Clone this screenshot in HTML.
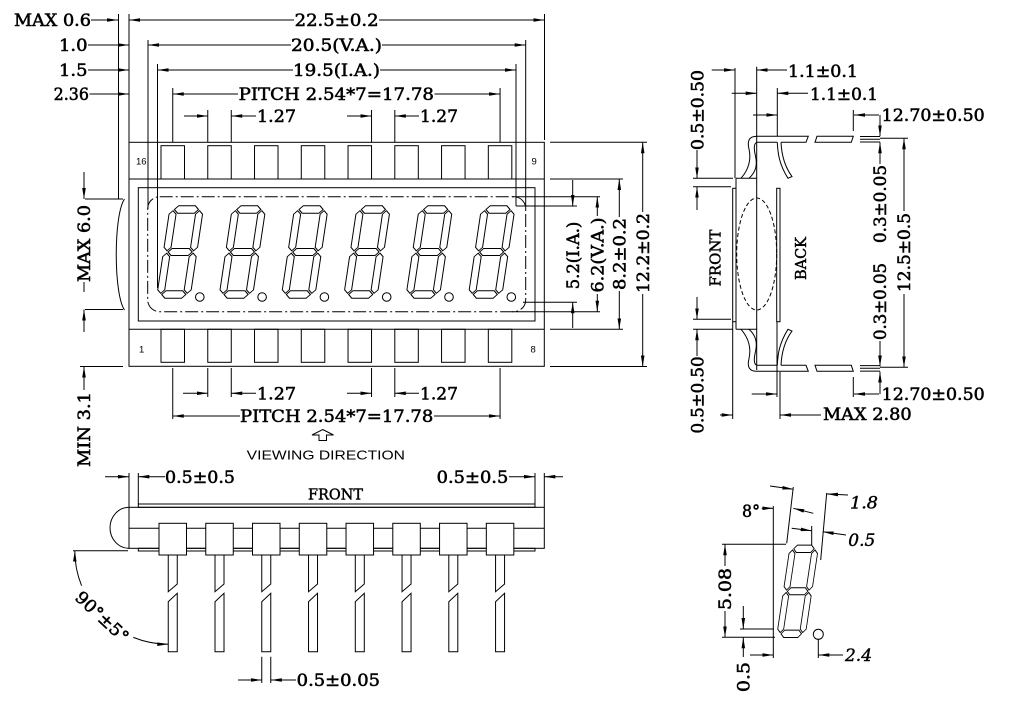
<!DOCTYPE html>
<html><head><meta charset="utf-8">
<style>
html,body{margin:0;padding:0;background:#fff;}
svg{display:block;}
.t{font-family:"DejaVu Serif","Liberation Serif",serif;font-size:17px;fill:#000;stroke:#000;stroke-width:0.55;}
.f{font-family:"DejaVu Serif","Liberation Serif",serif;font-size:15px;fill:#000;stroke:#000;stroke-width:0.45;}
.i{font-family:"DejaVu Serif","Liberation Serif",serif;font-size:17px;font-style:italic;fill:#000;stroke:#000;stroke-width:0.4;}
.s{font-family:"Liberation Sans","DejaVu Sans",sans-serif;fill:#000;}
</style></head><body>
<svg width="1015" height="707" viewBox="0 0 1015 707" xmlns="http://www.w3.org/2000/svg" xmlns:xlink="http://www.w3.org/1999/xlink">
<defs>
<marker id="a" viewBox="0 0 11 3.6" refX="11" refY="1.8" markerWidth="11" markerHeight="3.6" markerUnits="userSpaceOnUse" orient="auto"><path d="M0,0 L11,1.8 L0,3.6 Z" fill="#000" stroke="none"/></marker>
<g id="dg" fill="#fff" stroke="#000" stroke-width="1">
<polygon points="4.7,-88.5 8.4,-92.2 25.1,-92.2 28.8,-88.5 25.1,-84.8 8.4,-84.8"/>
<polygon points="4.7,-46 8.2,-49.5 25.3,-49.5 28.8,-46 25.3,-42.5 8.2,-42.5"/>
<polygon points="4.7,-3.5 8.4,-7.2 25.1,-7.2 28.8,-3.5 25.1,0.2 8.4,0.2"/>
<polygon points="3.5,-87.3 7,-83.8 7,-50.7 3.5,-47.2 0,-50.7 0,-83.8"/>
<polygon points="30,-87.3 33.5,-83.8 33.5,-50.7 30,-47.2 26.5,-50.7 26.5,-83.8"/>
<polygon points="3.5,-44.8 7,-41.3 7,-8.2 3.5,-4.7 0,-8.2 0,-41.3"/>
<polygon points="30,-44.8 33.5,-41.3 33.5,-8.2 30,-4.7 26.5,-8.2 26.5,-41.3"/>
</g>
<g id="bp" fill="#fff" stroke="#000" stroke-width="1">
<rect x="-13.75" y="523.3" width="27.5" height="31.7"/>
<path d="M-4.5,555 V591.7 L4.5,584 V555" fill="none"/>
<path d="M-4.5,601.7 L4.5,593.3 V651.7 H-4.5 Z"/>
</g>
<g id="lead" fill="none" stroke="#000" stroke-width="1">
<path d="M757,136.3 H808.3 L806,142.3 H781 M777.3,142.3 H757"/>
<path d="M757,136.3 C749,136.3 747,141 749,149 C751,158 750,168 741,178.3"/>
<path d="M757,142.3 C754,143 753.5,148 755.5,156 C757.5,165 756,172 749,178.3"/>
<path d="M777.3,142.3 C777.8,153 779,164 788,178.3 L792,176.5 C783.5,165 781.5,153 781,142.3"/>
<polygon points="817,136.3 853.3,136.3 851.3,142.3 815,142.3"/>
<path d="M860,136.5 H880 M860,139.3 H880 M860,142 H880"/>
</g>
</defs>

<g fill="none" stroke="#000" stroke-width="1">
<path d="M91,20 H118" marker-end="url(#a)"/>
<path d="M294,20 H129" marker-end="url(#a)"/>
<path d="M379,20 H544.5" marker-end="url(#a)"/>
<path d="M88,45 H129" marker-end="url(#a)"/>
<path d="M291,45 H148" marker-end="url(#a)"/>
<path d="M382,45 H525.7" marker-end="url(#a)"/>
<path d="M88,70 H129" marker-end="url(#a)"/>
<path d="M293,70 H157.5" marker-end="url(#a)"/>
<path d="M380,70 H516" marker-end="url(#a)"/>
<path d="M89.5,94 H129" marker-end="url(#a)"/>
<path d="M238,94 H172.75" marker-end="url(#a)"/>
<path d="M434.5,94 H500.07" marker-end="url(#a)"/>
<path d="M184,116 H207.76" marker-end="url(#a)"/>
<path d="M256,116 H231.26" marker-end="url(#a)"/>
<path d="M347,116 H371.54" marker-end="url(#a)"/>
<path d="M419,116 H394.8" marker-end="url(#a)"/>
<path d="M118.5,14 V199 M129,14 V142 M544.5,14 V140 M148,40 V209 M525.7,40 V209 M157.5,64 V288 M516,64 V206 M172.75,88 V142 M500.07,88 V142 M207.76,110 V142 M231.26,110 V142 M371.54,110 V142 M394.8,110 V142"/>

<rect x="129" y="142.3" width="415.3" height="224"/>
<path d="M129,179 H544.3 M129,329.3 H544.3"/>
<rect x="138.3" y="187.7" width="396.7" height="133.3"/>
<rect x="147.7" y="196.7" width="378" height="115" rx="12" stroke-dasharray="13 3 2 3"/>
<path d="M124.5,199 C113.5,215 113.5,294 124.5,310"/>
<rect x="161" y="145.7" width="23.5" height="33.3"/>
<rect x="207.76" y="145.7" width="23.5" height="33.3"/>
<rect x="254.52" y="145.7" width="23.5" height="33.3"/>
<rect x="301.28" y="145.7" width="23.5" height="33.3"/>
<rect x="348.04" y="145.7" width="23.5" height="33.3"/>
<rect x="394.8" y="145.7" width="23.5" height="33.3"/>
<rect x="441.56" y="145.7" width="23.5" height="33.3"/>
<rect x="488.32" y="145.7" width="23.5" height="33.3"/>
<rect x="161" y="329.3" width="23.5" height="33"/>
<rect x="207.76" y="329.3" width="23.5" height="33"/>
<rect x="254.52" y="329.3" width="23.5" height="33"/>
<rect x="301.28" y="329.3" width="23.5" height="33"/>
<rect x="348.04" y="329.3" width="23.5" height="33"/>
<rect x="394.8" y="329.3" width="23.5" height="33"/>
<rect x="441.56" y="329.3" width="23.5" height="33"/>
<rect x="488.32" y="329.3" width="23.5" height="33"/>
</g>
<use xlink:href="#dg" href="#dg" transform="translate(156.5,298) skewX(-8.5)"/>
<use xlink:href="#dg" href="#dg" transform="translate(218.8,298) skewX(-8.5)"/>
<use xlink:href="#dg" href="#dg" transform="translate(281.1,298) skewX(-8.5)"/>
<use xlink:href="#dg" href="#dg" transform="translate(343.4,298) skewX(-8.5)"/>
<use xlink:href="#dg" href="#dg" transform="translate(405.7,298) skewX(-8.5)"/>
<use xlink:href="#dg" href="#dg" transform="translate(468,298) skewX(-8.5)"/>
<g fill="#fff" stroke="#000" stroke-width="1">
<circle cx="199.8" cy="297" r="4.3"/><circle cx="262.1" cy="297" r="4.3"/><circle cx="324.4" cy="297" r="4.3"/><circle cx="386.7" cy="297" r="4.3"/><circle cx="449" cy="297" r="4.3"/><circle cx="511.3" cy="297" r="4.3"/>
</g>
<text class="s" font-size="9.5" x="136" y="164.3">16</text>
<text class="s" font-size="9.5" x="531.5" y="164.3">9</text>
<text class="s" font-size="9.5" x="139" y="352.3">1</text>
<text class="s" font-size="9.5" x="530.5" y="352.5">8</text>

<g fill="none" stroke="#000" stroke-width="1">
<path d="M550,142.3 H647 M550,366.5 H647 M550,179 H623 M550,329.3 H623 M512,196.7 H600 M512,311.7 H600 M516,206 H577 M523,302.3 H577"/>
<path d="M572.7,180 V206" marker-end="url(#a)"/>
<path d="M572.7,328 V302.3" marker-end="url(#a)"/>
<path d="M597.3,216 V196.7" marker-end="url(#a)"/>
<path d="M597.3,294 V311.7" marker-end="url(#a)"/>
<path d="M619.3,217 V179" marker-end="url(#a)"/>
<path d="M619.3,291 V329.3" marker-end="url(#a)"/>
<path d="M642.7,212 V142.3" marker-end="url(#a)"/>
<path d="M642.7,294 V366.5" marker-end="url(#a)"/>
<path d="M85,199 H123 M85,309.5 H123 M80,366.5 H123 M84,282 V292"/>
<path d="M84,172 V199" marker-end="url(#a)"/>
<path d="M84,332 V309.5" marker-end="url(#a)"/>
<path d="M84,390 V366.5" marker-end="url(#a)"/>
<path d="M172.75,368 V419 M500.07,368 V419 M207.76,368 V397 M231.26,368 V397 M371.54,368 V397 M394.8,368 V397"/>
<path d="M183,393.3 H207.76" marker-end="url(#a)"/>
<path d="M256,393.3 H231.26" marker-end="url(#a)"/>
<path d="M347,393.3 H371.54" marker-end="url(#a)"/>
<path d="M419,393.3 H394.8" marker-end="url(#a)"/>
<path d="M240,416 H172.75" marker-end="url(#a)"/>
<path d="M434,416 H500.07" marker-end="url(#a)"/>
<path d="M322.7,429.5 L333.5,435 L326.5,435 L326.5,440.5 L319,440.5 L319,435 L312,435 Z"/>
<path d="M105,476.7 H129" marker-end="url(#a)"/>
<path d="M165,476.7 H138.3" marker-end="url(#a)"/>
<path d="M509,476.7 H535" marker-end="url(#a)"/>
<path d="M563,476.7 H544.3" marker-end="url(#a)"/>
<path d="M129,473 V507.3 M138.3,473 V504 M535,473 V504 M544.3,473 V507.3"/>

<rect x="138.3" y="504" width="396.7" height="3.3"/>
<rect x="129" y="507.3" width="415.3" height="41"/>
<path d="M129,528.3 H544.3"/>
<rect x="138.3" y="548.3" width="396.7" height="2.7"/>
<path d="M129,507.3 A19,20.5 0 0 0 129,548.3"/>
<path d="M73,550.7 H128"/>
<path d="M81.6,585.7 A93.5,93.5 0 0 1 74.8,550.7" marker-end="url(#a)"/>
<path d="M133.3,637.4 A93.5,93.5 0 0 0 168.25,644.2" marker-end="url(#a)"/>
<path d="M261.77,656.7 V683 M270.77,656.7 V683"/>
<path d="M238,680 H261.77" marker-end="url(#a)"/>
<path d="M296,680 H270.77" marker-end="url(#a)"/>
</g>
<use xlink:href="#bp" href="#bp" x="172.75"/>
<use xlink:href="#bp" href="#bp" x="219.51"/>
<use xlink:href="#bp" href="#bp" x="266.27"/>
<use xlink:href="#bp" href="#bp" x="313.03"/>
<use xlink:href="#bp" href="#bp" x="359.79"/>
<use xlink:href="#bp" href="#bp" x="406.55"/>
<use xlink:href="#bp" href="#bp" x="453.31"/>
<use xlink:href="#bp" href="#bp" x="500.07"/>

<g fill="none" stroke="#000" stroke-width="1">
<path d="M736,178.3 V329.3 M736,178.3 H756.7 M736,329.3 H756.7"/>
<rect x="732.7" y="188.3" width="3.3" height="133.4"/>
<rect x="776.7" y="188.3" width="3.3" height="133.4"/>
<ellipse cx="756.7" cy="254" rx="20" ry="56" stroke-dasharray="4 2.5"/>
<path d="M735,68 V178.3 M756.7,66.7 V370 M777.3,88 V136.3"/>
<path d="M693,178.3 H733 M693,186.7 H731 M693,319.3 H731 M693,329.3 H733"/>
<path d="M697,150 V178.3" marker-end="url(#a)"/>
<path d="M697,210 V186.7" marker-end="url(#a)"/>
<path d="M697,297 V319.3" marker-end="url(#a)"/>
<path d="M697,356 V329.3" marker-end="url(#a)"/>
<path d="M711.7,70 H735" marker-end="url(#a)"/>
<path d="M787,70 H756.7" marker-end="url(#a)"/>
<path d="M731.7,93.3 H756.7" marker-end="url(#a)"/>
<path d="M808,93.3 H777.3" marker-end="url(#a)"/>
<path d="M753,115 H777.3" marker-end="url(#a)"/>
<path d="M853.3,110 V131 M853.3,377 V397"/>
<path d="M879,115 H854" marker-end="url(#a)"/>
<path d="M880,115 V136.3" marker-end="url(#a)"/>
<path d="M880,164 V142.3" marker-end="url(#a)"/>
<path d="M880,341 V366.5" marker-end="url(#a)"/>
<path d="M880,394 V371.6" marker-end="url(#a)"/>
<path d="M879,394 H854" marker-end="url(#a)"/>
<path d="M880,138.3 H908 M880,367.3 H908"/>
<path d="M904,211 V138.3" marker-end="url(#a)"/>
<path d="M904,294 V367.3" marker-end="url(#a)"/>
<path d="M777,322 V397 M732.7,322 V419 M780,372 V419"/>
<path d="M751.7,394 H777" marker-end="url(#a)"/>
<path d="M720,415 H732.7" marker-end="url(#a)"/>
<path d="M821,415 H780" marker-end="url(#a)"/>
</g>
<use xlink:href="#lead" href="#lead"/>
<use xlink:href="#lead" href="#lead" transform="matrix(1 0 0 -1 0 507.6)"/>

<use xlink:href="#dg" href="#dg" transform="translate(776.5,637.3) skewX(-8.5) scale(0.85,1)"/>
<g fill="none" stroke="#000" stroke-width="1">
<circle cx="818.3" cy="634.3" r="5" fill="#fff"/>
<path d="M818.3,639.3 V658"/>
<path d="M722,544.3 H786 M722,637.3 H775 M740,629 H774 M773.3,506 V658"/>
<path d="M725,566 V544.3" marker-end="url(#a)"/>
<path d="M725,611 V637.3" marker-end="url(#a)"/>
<path d="M743.3,606 V629" marker-end="url(#a)"/>
<path d="M743.3,657 V637.3" marker-end="url(#a)"/>
<path d="M761.7,508.3 H773.3" marker-end="url(#a)"/>
<path d="M793.3,487 L786.7,543.3 M826.7,493 L820.7,560 M811.7,526 V545"/>
<path d="M770,486 L793.3,489.3" marker-end="url(#a)"/>
<path d="M813.3,513.3 L793.3,508.3" marker-end="url(#a)"/>
<path d="M791.7,528.3 L811.7,530.7" marker-end="url(#a)"/>
<path d="M848,495 L827,494" marker-end="url(#a)"/>
<path d="M846,535 L822.7,531.7" marker-end="url(#a)"/>
<path d="M750,655 H773.3" marker-end="url(#a)"/>
<path d="M843,655 H818.3" marker-end="url(#a)"/>
</g>

<text class="t" x="14" y="26.2" textLength="77" lengthAdjust="spacingAndGlyphs">MAX 0.6</text>
<text class="t" x="294.6" y="26.2" textLength="84" lengthAdjust="spacingAndGlyphs">22.5±0.2</text>
<text class="t" x="59" y="51.2" textLength="28.5" lengthAdjust="spacingAndGlyphs">1.0</text>
<text class="t" x="291" y="51.2" textLength="91" lengthAdjust="spacingAndGlyphs">20.5(V.A.)</text>
<text class="t" x="59" y="76.2" textLength="28.5" lengthAdjust="spacingAndGlyphs">1.5</text>
<text class="t" x="293" y="76.2" textLength="87" lengthAdjust="spacingAndGlyphs">19.5(I.A.)</text>
<text class="t" x="53.6" y="100.2" textLength="35.4" lengthAdjust="spacingAndGlyphs">2.36</text>
<text class="t" x="238.6" y="100.2" textLength="195.4" lengthAdjust="spacingAndGlyphs">PITCH  2.54*7=17.78</text>
<text class="t" x="257" y="122.2" textLength="39" lengthAdjust="spacingAndGlyphs">1.27</text>
<text class="t" x="420" y="122.2" textLength="38" lengthAdjust="spacingAndGlyphs">1.27</text>

<text class="t" transform="translate(578.9,255.5) rotate(-90)" x="-33.8" y="0" textLength="67.6" lengthAdjust="spacingAndGlyphs">5.2(I.A.)</text>
<text class="t" transform="translate(603.5,255) rotate(-90)" x="-37.5" y="0" textLength="75" lengthAdjust="spacingAndGlyphs">6.2(V.A.)</text>
<text class="t" transform="translate(625.5,254) rotate(-90)" x="-36" y="0" textLength="72" lengthAdjust="spacingAndGlyphs">8.2±0.2</text>
<text class="t" transform="translate(648.9,253) rotate(-90)" x="-40" y="0" textLength="80" lengthAdjust="spacingAndGlyphs">12.2±0.2</text>
<text class="t" transform="translate(90.2,243.5) rotate(-90)" x="-38.5" y="0" textLength="77" lengthAdjust="spacingAndGlyphs">MAX 6.0</text>
<text class="t" transform="translate(90.2,429.5) rotate(-90)" x="-37.5" y="0" textLength="75" lengthAdjust="spacingAndGlyphs">MIN 3.1</text>

<text class="t" x="257" y="399.5" textLength="39" lengthAdjust="spacingAndGlyphs">1.27</text>
<text class="t" x="420" y="399.5" textLength="38" lengthAdjust="spacingAndGlyphs">1.27</text>
<text class="t" x="240" y="422.2" textLength="193.3" lengthAdjust="spacingAndGlyphs">PITCH  2.54*7=17.78</text>
<text class="s" font-size="13" x="246.7" y="459.3" textLength="158.3" lengthAdjust="spacingAndGlyphs">VIEWING DIRECTION</text>
<text class="t" x="165" y="482.9" textLength="70" lengthAdjust="spacingAndGlyphs">0.5±0.5</text>
<text class="t" x="436.7" y="482.9" textLength="71.6" lengthAdjust="spacingAndGlyphs">0.5±0.5</text>
<text class="f" x="308" y="499.3" textLength="55" lengthAdjust="spacingAndGlyphs">FRONT</text>
<text class="t" transform="translate(102.2,616.8) rotate(43)" x="-33" y="6" textLength="66" lengthAdjust="spacingAndGlyphs">90°±5°</text>
<text class="t" x="296.7" y="686.2" textLength="83.3" lengthAdjust="spacingAndGlyphs">0.5±0.05</text>

<text class="t" transform="translate(703.7,110) rotate(-90)" x="-40" y="0" textLength="80" lengthAdjust="spacingAndGlyphs">0.5±0.50</text>
<text class="t" transform="translate(703.7,395) rotate(-90)" x="-38.5" y="0" textLength="77" lengthAdjust="spacingAndGlyphs">0.5±0.50</text>
<text class="t" x="788" y="77.2" textLength="70" lengthAdjust="spacingAndGlyphs">1.1±0.1</text>
<text class="t" x="810" y="99.8" textLength="68" lengthAdjust="spacingAndGlyphs">1.1±0.1</text>
<text class="t" x="881.7" y="121.2" textLength="103" lengthAdjust="spacingAndGlyphs">12.70±0.50</text>
<text class="t" x="881.7" y="400.2" textLength="103" lengthAdjust="spacingAndGlyphs">12.70±0.50</text>
<text class="t" x="823" y="420.2" textLength="88.7" lengthAdjust="spacingAndGlyphs">MAX 2.80</text>
<text class="t" transform="translate(886.2,204) rotate(-90)" x="-39" y="0" textLength="78" lengthAdjust="spacingAndGlyphs">0.3±0.05</text>
<text class="t" transform="translate(886.2,301.5) rotate(-90)" x="-38.5" y="0" textLength="77" lengthAdjust="spacingAndGlyphs">0.3±0.05</text>
<text class="t" transform="translate(910.2,252.5) rotate(-90)" x="-39.5" y="0" textLength="79" lengthAdjust="spacingAndGlyphs">12.5±0.5</text>
<text class="f" transform="translate(720.5,258) rotate(-90)" x="-28.5" y="0" textLength="57" lengthAdjust="spacingAndGlyphs">FRONT</text>
<text class="f" transform="translate(806.2,258.5) rotate(-90)" x="-21.5" y="0" textLength="43" lengthAdjust="spacingAndGlyphs">BACK</text>

<text class="t" x="742" y="517" textLength="18" lengthAdjust="spacingAndGlyphs">8°</text>
<text class="i" x="850" y="508.5" textLength="28" lengthAdjust="spacingAndGlyphs">1.8</text>
<text class="i" x="848.3" y="546" textLength="27" lengthAdjust="spacingAndGlyphs">0.5</text>
<text class="i" x="845" y="661" textLength="27" lengthAdjust="spacingAndGlyphs">2.4</text>
<text class="t" transform="translate(731.2,589) rotate(-90)" x="-21" y="0" textLength="42" lengthAdjust="spacingAndGlyphs">5.08</text>
<text class="t" transform="translate(749.5,677) rotate(-90)" x="-15" y="0" textLength="30" lengthAdjust="spacingAndGlyphs">0.5</text>
</svg>
</body></html>
